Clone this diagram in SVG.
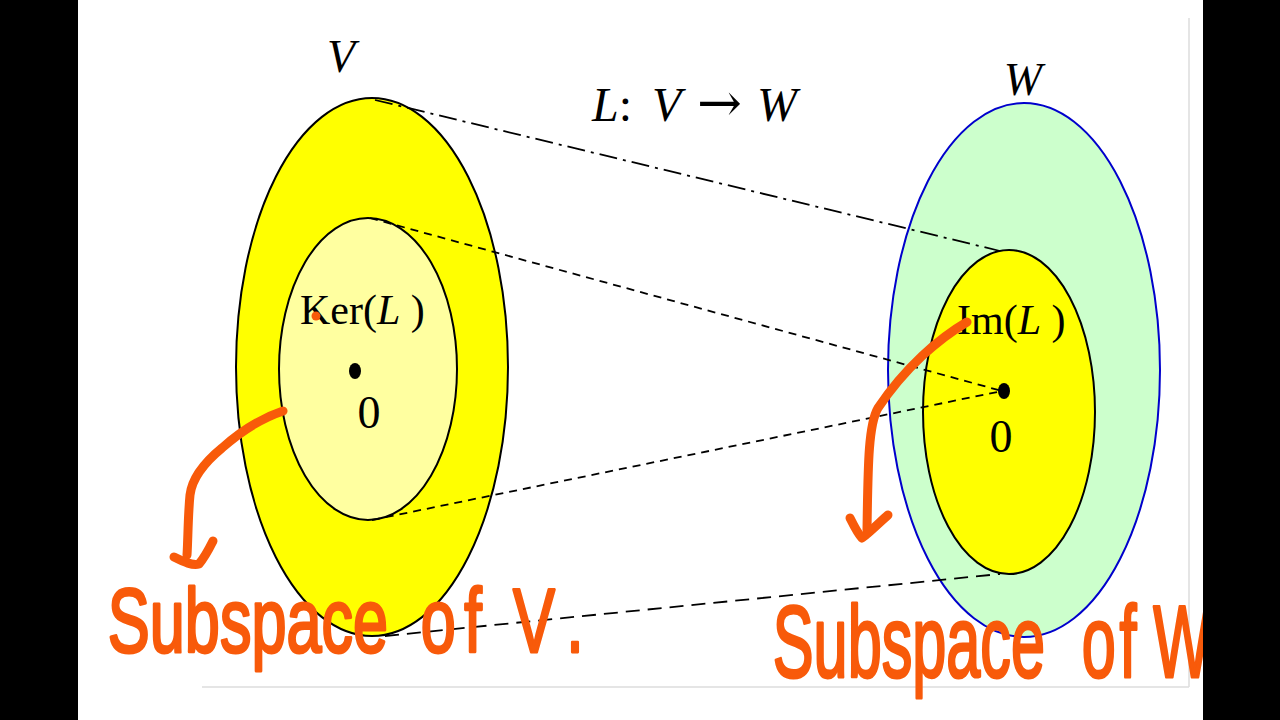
<svg xmlns="http://www.w3.org/2000/svg" width="1280" height="720" viewBox="0 0 1280 720">
<style>
.serif{font-family:"Liberation Serif","Times New Roman",serif;fill:#000}
.it{font-style:italic}
.hand{font-family:"Liberation Sans",Arial,sans-serif;fill:#F85A0A;stroke:#F85A0A;stroke-width:3;stroke-linejoin:round}
.ink{fill:none;stroke:#F85A0A;stroke-width:9;stroke-linecap:round;stroke-linejoin:round}
.conn{fill:none;stroke:#000;stroke-width:1.8}
</style>
<rect x="0" y="0" width="1280" height="720" fill="#fff"/>
<g id="frame" fill="none" stroke="#dcdcdc" stroke-width="1.5">
<line x1="1189" y1="18" x2="1189" y2="687"/>
<line x1="202" y1="687" x2="1189" y2="687"/>
</g>
<g id="node-V">
<ellipse cx="372" cy="367" rx="136" ry="269" fill="#ffff00" stroke="#000" stroke-width="2"/>
<text class="serif it" x="341" y="72" font-size="46" text-anchor="middle">V</text>
</g>
<g id="node-W">
<ellipse cx="1024" cy="370" rx="136" ry="267" fill="#ccffcc" stroke="#0000cc" stroke-width="2"/>
<text class="serif it" x="1023" y="95" font-size="46" text-anchor="middle">W</text>
</g>
<g id="node-Ker">
<ellipse cx="368" cy="369" rx="89" ry="151" fill="#ffffa0" stroke="#000" stroke-width="2"/>
</g>
<g id="node-Im">
<ellipse cx="1009" cy="412" rx="86" ry="162" fill="#ffff00" stroke="#000" stroke-width="2"/>
</g>
<g id="connectors">
<line class="conn" x1="375" y1="100" x2="1000" y2="251" stroke-dasharray="18 6 3 6"/>
<line class="conn" x1="370" y1="218" x2="1002" y2="391" stroke-dasharray="8 6"/>
<line class="conn" x1="372" y1="520" x2="1002" y2="391" stroke-dasharray="8 6"/>
<line class="conn" x1="385" y1="636" x2="1000" y2="574" stroke-dasharray="14 8"/>
</g>
<g id="labels">
<text class="serif" x="300" y="324" font-size="42">Ker(<tspan class="it">L</tspan> )</text>
<ellipse cx="355" cy="371" rx="6" ry="8" fill="#000"/>
<text class="serif" x="369" y="428" font-size="46" text-anchor="middle">0</text>
<text class="serif" x="957" y="334" font-size="42">Im(<tspan class="it">L</tspan> )</text>
<ellipse cx="1004" cy="391" rx="6" ry="8" fill="#000"/>
<text class="serif" x="1001" y="452" font-size="46" text-anchor="middle">0</text>
<text class="serif" y="121" font-size="48"><tspan class="it" x="592">L</tspan><tspan>:</tspan><tspan font-size="20"> </tspan><tspan class="it" x="652">V</tspan><tspan font-size="10"> </tspan><tspan x="697" font-family="DejaVu Serif" font-size="54" textLength="45" lengthAdjust="spacingAndGlyphs">→</tspan><tspan font-size="10"> </tspan><tspan class="it" x="757">W</tspan></text>
</g>
<g id="annotations">
<circle cx="316" cy="316" r="4.5" fill="#F85A0A"/>
<path class="ink" d="M283,411 C262,418 240,432 222,448 C205,462 192,478 190,495 C188,515 188,540 187,555"/>
<path class="ink" d="M174,557 C184,562 193,566 199,564 C205,557 209,549 213,541"/>
<path class="ink" d="M967,322 C950,332 935,344 922,356 C905,372 890,390 878,408 C868,425 868,470 867,530"/>
<path class="ink" d="M850,518 C854,526 858,534 862,538 C870,532 880,522 888,515"/>
<text class="hand" transform="scale(0.7,1)" y="652" font-size="90"><tspan x="154">Subspace</tspan><tspan font-size="16"> </tspan><tspan x="601" letter-spacing="12">of</tspan><tspan font-size="16"> </tspan><tspan x="733" letter-spacing="24">V.</tspan></text>
<text class="hand" transform="scale(0.6,1)" y="677" font-size="102"><tspan x="1288">Subspace</tspan><tspan font-size="16"> </tspan><tspan x="1803" letter-spacing="6">of</tspan><tspan font-size="16"> </tspan><tspan x="1922">W</tspan></text>
</g>
<g id="bars" fill="#000">
<rect x="0" y="0" width="78" height="720"/>
<rect x="1203" y="0" width="77" height="720"/>
</g>
</svg>
